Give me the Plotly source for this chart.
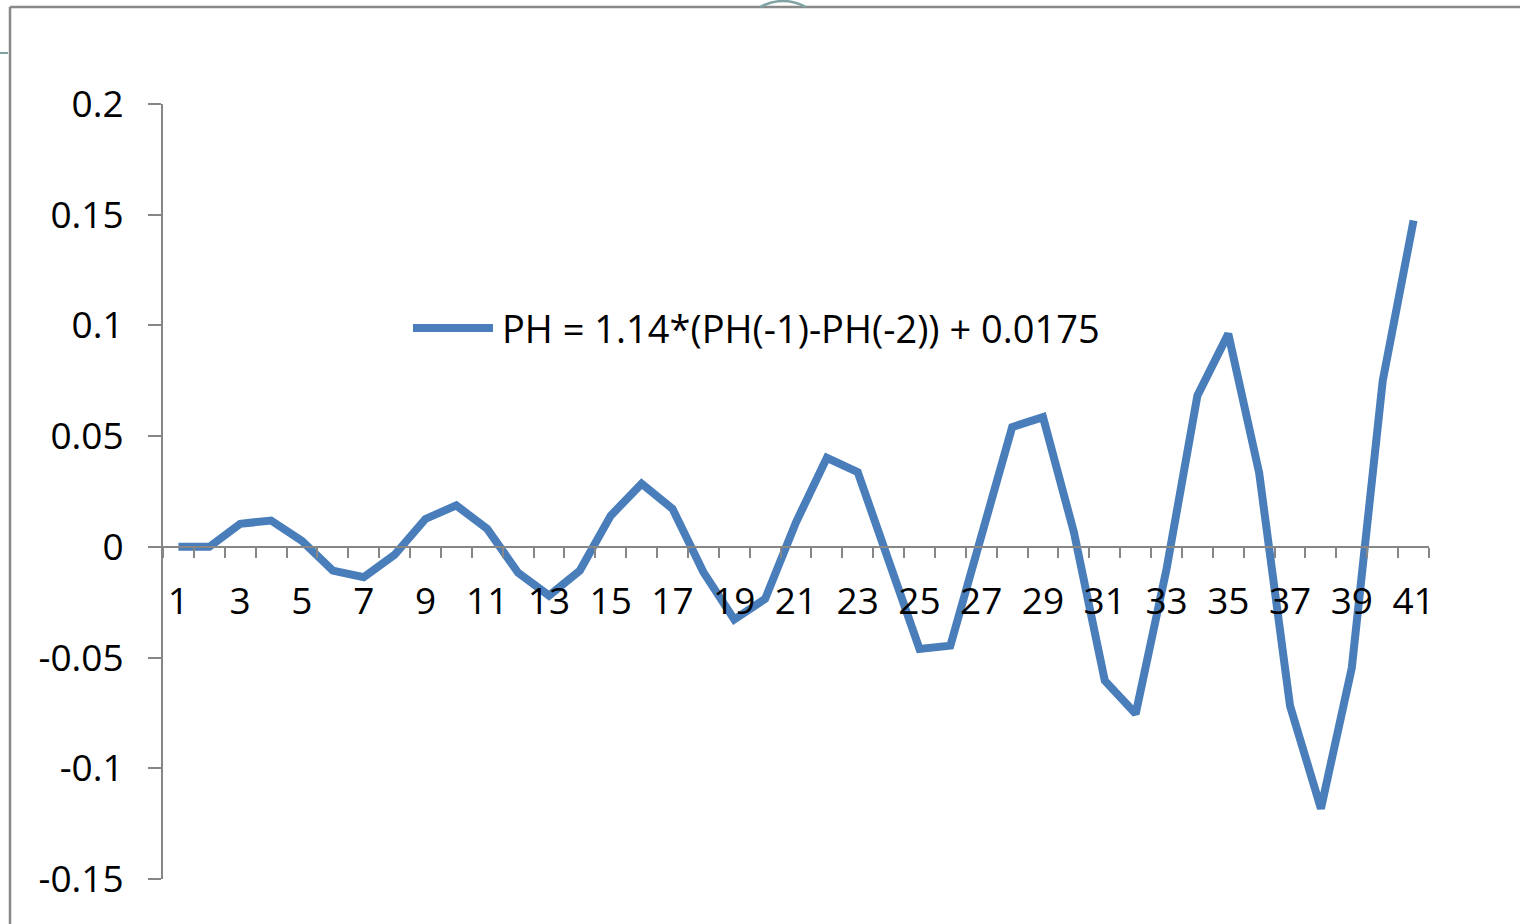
import plotly.graph_objects as go

# ---- data ----
categories = list(range(1, 42))
ph_values = [0, 0, 0.0104, 0.0119, 0.0027, -0.0107, -0.0137, -0.0036, 0.0126, 0.0187,
             0.0081, -0.0117, -0.022, -0.0107, 0.0141, 0.0285, 0.0172, -0.0114, -0.0328, -0.0235,
             0.0111, 0.0402, 0.0337, -0.0054, -0.0461, -0.0446, 0.004, 0.0541, 0.0586, 0.0066,
             -0.0604, -0.0754, -0.01, 0.0683, 0.0962, 0.0334, -0.0718, -0.1182, -0.0546, 0.0749,
             0.1474]
series_name = "PH = 1.14*(PH(-1)-PH(-2)) + 0.0175"
y_tickvals = [-0.15, -0.1, -0.05, 0, 0.05, 0.1, 0.15, 0.2]
y_ticktext = ["-0.15", "-0.1", "-0.05", "0", "0.05", "0.1", "0.15", "0.2"]
x_label_vals = categories[::2]
x_label_text = [str(c) for c in x_label_vals]
x_boundaries = [c - 0.5 for c in categories] + [categories[-1] + 0.5]

# ---- layout constants (body margin removed by post_script) ----
W, H = 1520, 924
PLOT_X0, PLOT_X1, PLOT_Y0, PLOT_Y1 = 163, 1429, 104, 879  # screen pixels
L, T = PLOT_X0, PLOT_Y0
PW, PH_ = PLOT_X1 - PLOT_X0, PLOT_Y1 - PLOT_Y0
R, B = W - L - PW, H - T - PH_
BLUE = "#4A7EBB"
GRAY = "#868686"
FONT = "Open Sans"
FS = 37
ymin, ymax = -0.15, 0.2
xpos = (0 - ymin) / (ymax - ymin)


def px2x(px):
    return (px - PLOT_X0) / PW


def py2y(py):
    return (PLOT_Y1 - py) / PH_


fig = go.Figure()
fig.add_trace(go.Scatter(x=categories, y=ph_values, mode="lines",
                         line=dict(color=BLUE, width=8), name=series_name,
                         showlegend=False, xaxis="x", yaxis="y"))
fig.add_trace(go.Scatter(x=categories, y=[None] * len(categories), mode="lines",
                         showlegend=False, hoverinfo="skip", xaxis="x2", yaxis="y"))

fig.update_layout(
    width=W, height=H,
    margin=dict(l=L, r=R, t=T, b=B),
    paper_bgcolor="white", plot_bgcolor="white",
    font=dict(family=FONT, size=FS, color="black"),
    xaxis=dict(range=[0.5, 41.5], anchor="free", position=xpos,
               tickmode="array", tickvals=x_label_vals, ticktext=x_label_text,
               ticks="outside", ticklen=10, tickcolor="rgba(0,0,0,0)",
               ticklabelstandoff=12,
               showline=False, showgrid=False, zeroline=False,
               tickfont=dict(family=FONT, size=FS, color="black")),
    xaxis2=dict(range=[0.5, 41.5], overlaying="x", anchor="free", position=xpos,
                side="bottom",
                tickmode="array", tickvals=x_boundaries, showticklabels=False,
                ticks="outside", ticklen=10, tickwidth=2, tickcolor=GRAY,
                showline=True, linecolor=GRAY, linewidth=2,
                showgrid=False, zeroline=False),
    yaxis=dict(range=[ymin, ymax], tickmode="array", tickvals=y_tickvals,
               ticktext=y_ticktext, ticks="outside", ticklen=13, tickwidth=2,
               tickcolor=GRAY, showline=True, linecolor=GRAY, linewidth=2,
               showgrid=False, zeroline=False, ticklabelstandoff=17,
               tickfont=dict(family=FONT, size=FS, color="black")),
)

shapes = [
    # legend sample line
    dict(type="line", xref="paper", yref="paper", x0=px2x(413), x1=px2x(493),
         y0=py2y(328), y1=py2y(328), line=dict(color=BLUE, width=8)),
    # frame top / left
    dict(type="line", xref="paper", yref="paper", x0=px2x(10), x1=px2x(1530),
         y0=py2y(7), y1=py2y(7), line=dict(color="#898989", width=2.5)),
    dict(type="line", xref="paper", yref="paper", x0=px2x(10), x1=px2x(10),
         y0=py2y(7), y1=py2y(930), line=dict(color="#898989", width=2.5)),
    # decorative arc at top
    dict(type="path", xref="paper", yref="paper",
         path=f"M {px2x(760)} {py2y(7)} Q {px2x(783)} {py2y(-5)} {px2x(806)} {py2y(7)}",
         line=dict(color="#7FA3A3", width=2.5)),
    # small dashed mark left
    dict(type="line", xref="paper", yref="paper", x0=px2x(0), x1=px2x(8),
         y0=py2y(53), y1=py2y(53), line=dict(color="#7FA3A3", width=2, dash="dash")),
]
fig.update_layout(shapes=shapes)

fig.add_annotation(xref="paper", yref="paper", x=px2x(500), y=py2y(328),
                   xanchor="left", yanchor="middle", text=series_name,
                   showarrow=False, font=dict(family=FONT, size=38, color="black"))

fig.write_html("out.html", config={"displayModeBar": False},
               post_script="document.body.style.margin='0';"
                           "document.body.style.overflow='hidden';")
